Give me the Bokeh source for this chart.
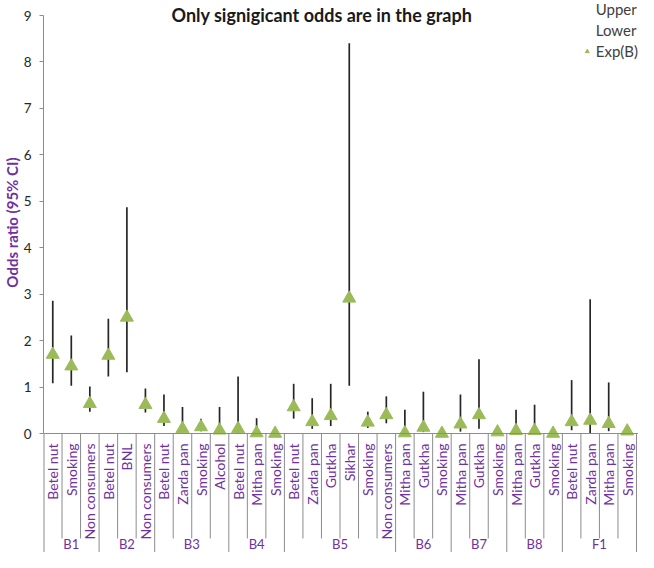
import numpy as np
from bokeh.plotting import figure
from bokeh.models import (Range1d, FixedTicker, Legend, LegendItem, Label, Span,
                          ColumnDataSource, Title)
from bokeh.core.properties import value
from bokeh.embed import file_html
from bokeh.resources import INLINE

# ---- data ----
groups = ["B1", "B2", "B3", "B4", "B5", "B6", "B7", "B8", "F1"]
group_items = [
    ["Betel nut", "Smoking", "Non consumers"],
    ["Betel nut", "BNL", "Non consumers"],
    ["Betel nut", "Zarda pan", "Smoking", "Alcohol"],
    ["Betel nut", "Mitha pan", "Smoking"],
    ["Betel nut", "Zarda pan", "Gutkha", "Sikhar", "Smoking", "Non consumers"],
    ["Mitha pan", "Gutkha", "Smoking"],
    ["Mitha pan", "Gutkha", "Smoking"],
    ["Mitha pan", "Gutkha", "Smoking"],
    ["Betel nut", "Zarda pan", "Mitha pan", "Smoking"],
]
exp_b = [1.70, 1.45, 0.64,
         1.68, 2.50, 0.62,
         0.32, 0.10, 0.14, 0.07,
         0.10, 0.01, 0.00,
         0.57, 0.25, 0.38, 2.91, 0.24, 0.40,
         0.01, 0.13, 0.00,
         0.20, 0.40, 0.03,
         0.06, 0.06, 0.00,
         0.25, 0.28, 0.21, 0.05]
lower = [1.08, 1.03, 0.47,
         1.23, 1.32, 0.45,
         0.16, 0.02, 0.05, 0.01,
         0.01, 0.00, 0.00,
         0.32, 0.10, 0.16, 1.03, 0.12, 0.22,
         0.00, 0.03, 0.00,
         0.04, 0.10, 0.00,
         0.00, 0.00, 0.00,
         0.07, 0.00, 0.05, 0.00]
upper = [2.86, 2.11, 1.01,
         2.47, 4.87, 0.97,
         0.84, 0.57, 0.32, 0.57,
         1.23, 0.33, 0.02,
         1.07, 0.76, 1.07, 8.40, 0.47, 0.80,
         0.51, 0.90, 0.02,
         0.84, 1.60, 0.05,
         0.51, 0.62, 0.02,
         1.15, 2.89, 1.10, 0.10]
y_ticks = [0, 1, 2, 3, 4, 5, 6, 7, 8, 9]

# ---- derived positions ----
subs = [s for g in group_items for s in g]
n = len(subs)
xs = np.arange(n) + 0.5
counts = [len(g) for g in group_items]
bounds_grp = [int(b) for b in np.cumsum([0] + counts)]
group_centers = [(bounds_grp[i] + bounds_grp[i + 1]) / 2 for i in range(len(groups))]
short_b = [b for b in range(1, n) if b not in set(bounds_grp)]
long_b = bounds_grp[1:]

YMIN, YMAX = -2.562, 9.323
XMAX = 32.108
PURPLE = "#7030A0"
GREEN = "#9BBB59"
GRAY = "#8C8C8C"
FONT = "Lato"

p = figure(width=638, height=552, output_backend="svg", toolbar_location=None,
           x_range=Range1d(0, XMAX), y_range=Range1d(YMIN, YMAX),
           x_axis_location=None, min_border_left=42, min_border_right=0,
           min_border_top=0, min_border_bottom=0)
p.xgrid.visible = False
p.ygrid.visible = False
p.outline_line_color = None

ax = p.yaxis[0]
ax.ticker = FixedTicker(ticks=y_ticks)
ax.bounds = (0, 9)
ax.axis_line_color = GRAY
ax.major_tick_line_color = GRAY
ax.major_tick_out = 4
ax.major_tick_in = 0
ax.minor_tick_line_color = None
ax.major_label_text_font = FONT
ax.major_label_text_font_size = "13.5px"
ax.major_label_text_color = "#262626"
ax.major_label_standoff = 8

# y axis title, left of the tick labels
p.add_layout(Title(text="Odds ratio (95% CI)", align="right", offset=157,
                   standoff=0, text_font=FONT, text_font_size="15px",
                   text_font_style="bold", text_color=PURPLE), "left")

# horizontal category axis line
p.add_layout(Span(location=0, dimension="width", line_color=GRAY, line_width=1))
# category dividers
p.segment(x0=[0], y0=[0], x1=[0], y1=[YMIN - 0.1], line_color=GRAY, line_width=2)
p.segment(x0=short_b, y0=[0] * len(short_b), x1=short_b, y1=[-2.26] * len(short_b),
          line_color=GRAY, line_width=1)
p.segment(x0=long_b, y0=[0] * len(long_b), x1=long_b, y1=[YMIN - 0.1] * len(long_b),
          line_color=GRAY, line_width=1)

# high-low lines
src = ColumnDataSource(dict(x=xs, exp_b=exp_b, lower=lower, upper=upper))
p.segment(x0="x", y0="lower", x1="x", y1="upper", source=src,
          line_color="#262626", line_width=1.7)
r_up = p.scatter("x", "upper", source=src, size=1, alpha=0)
r_lo = p.scatter("x", "lower", source=src, size=1, alpha=0)
r_exp = p.scatter("x", "exp_b", source=src, marker="triangle", size=13,
                  fill_color=GREEN, line_color=GREEN)

# category labels
p.text(x=xs, y=[-0.215] * n, text=subs, angle=np.pi / 2, text_align="right",
       text_baseline="middle", text_color=PURPLE, text_font=value(FONT),
       text_font_size="14px")
p.text(x=group_centers, y=[-2.37] * len(groups), text=groups, text_align="center",
       text_baseline="middle", text_color=PURPLE, text_font=value(FONT),
       text_font_size="13px")

# title
p.add_layout(Label(x=15.14, y=9.258, text="Only  signigicant odds are in the graph",
                   text_align="center", text_baseline="top", text_font=FONT,
                   text_font_size="18px", text_font_style="bold", text_color="#1a1a1a"))

legend = Legend(items=[LegendItem(label="Upper", renderers=[r_up]),
                       LegendItem(label="Lower", renderers=[r_lo]),
                       LegendItem(label="Exp(B)", renderers=[r_exp])],
                location="top_right", margin=0, padding=0, spacing=3,
                label_height=18, glyph_height=18, glyph_width=10, label_standoff=4,
                border_line_color=None, background_fill_alpha=0,
                label_text_font=FONT, label_text_font_size="15px",
                label_text_color="#404040")
p.add_layout(legend)

open("out.html", "w").write(file_html(p, INLINE))
